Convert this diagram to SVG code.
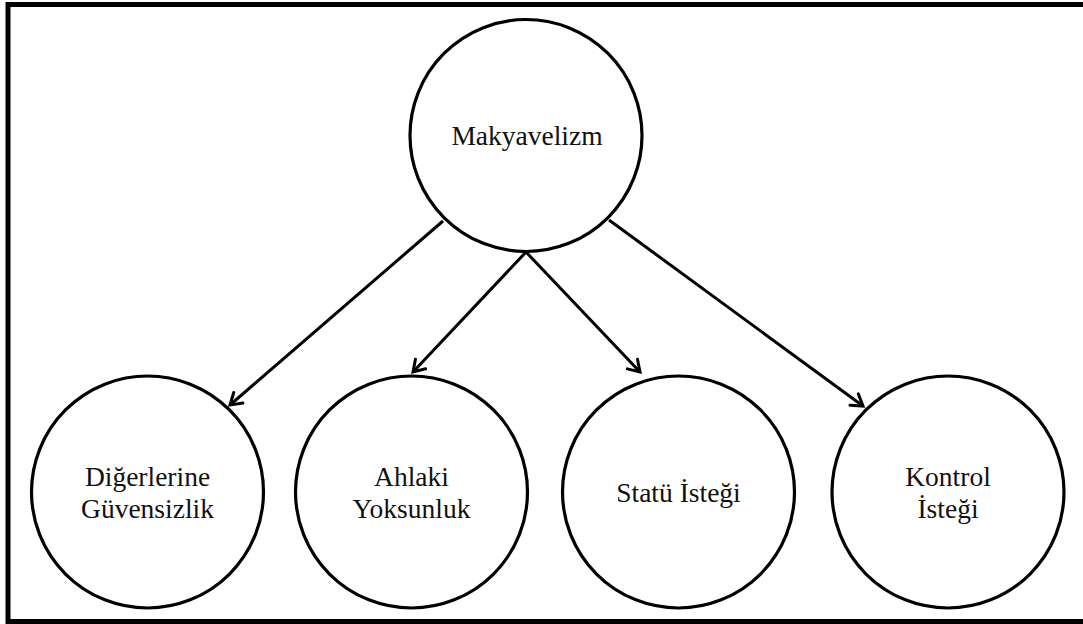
<svg xmlns="http://www.w3.org/2000/svg" width="1083" height="624" viewBox="0 0 1083 624">
  <style>
    .node circle { fill: #fff; stroke: #000; stroke-width: 3.2; }
    .node text { font-family: 'Liberation Serif', 'Times New Roman', 'DejaVu Serif', serif; font-size: 27.5px; fill: #111; text-anchor: middle; }
    .edge { fill: none; stroke: #000; stroke-width: 3; marker-end: url(#arrow); }
  </style>
  <defs>
    <marker id="arrow" markerUnits="userSpaceOnUse" markerWidth="20" markerHeight="20" viewBox="0 0 20 20" refX="15" refY="10" orient="auto">
      <path d="M4,3 L15,10 L4,17" fill="none" stroke="#000" stroke-width="3" stroke-linecap="round" stroke-linejoin="miter"/>
    </marker>
  </defs>
  <rect x="0" y="0" width="1083" height="624" fill="#fff"/>
  <!-- outer frame -->
  <rect x="8" y="4.5" width="1100" height="617" fill="none" stroke="#000" stroke-width="5"/>

  <g id="connectors">
    <line class="edge" x1="443" y1="221" x2="230" y2="405"/>
    <line class="edge" x1="526" y1="252" x2="413" y2="372"/>
    <line class="edge" x1="526" y1="252" x2="640" y2="372"/>
    <line class="edge" x1="609" y1="220" x2="863" y2="406"/>
  </g>

  <g id="makyavelizm" class="node">
    <circle cx="526" cy="135.5" r="116"/>
    <text x="527" y="145" font-family="Liberation Serif, serif">Makyavelizm</text>
  </g>
  <g id="digerlerine-guvensizlik" class="node">
    <circle cx="147.5" cy="492" r="116"/>
    <text x="147.5" y="486">Diğerlerine</text>
    <text x="147.5" y="518">Güvensizlik</text>
  </g>
  <g id="ahlaki-yoksunluk" class="node">
    <circle cx="411.5" cy="492" r="116"/>
    <text x="411.5" y="486">Ahlaki</text>
    <text x="411.5" y="518">Yoksunluk</text>
  </g>
  <g id="statu-istegi" class="node">
    <circle cx="678.5" cy="492" r="116"/>
    <text x="678.5" y="502">Statü İsteği</text>
  </g>
  <g id="kontrol-istegi" class="node">
    <circle cx="948" cy="492" r="116"/>
    <text x="948" y="486">Kontrol</text>
    <text x="948" y="518">İsteği</text>
  </g>
</svg>
